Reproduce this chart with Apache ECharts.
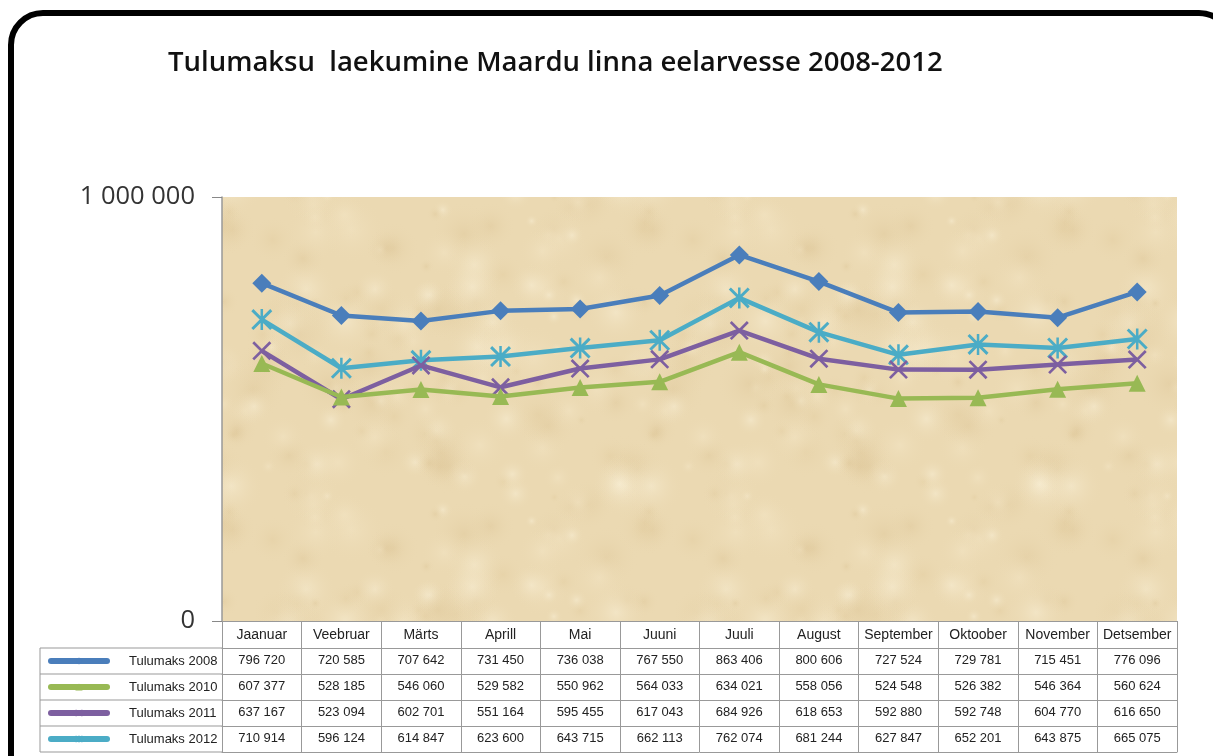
<!DOCTYPE html>
<html>
<head>
<meta charset="utf-8">
<title>Tulumaksu laekumine</title>
<script src="https://cdn.jsdelivr.net/npm/echarts@6/dist/echarts.min.js"></script>
<style>
  html, body { margin: 0; padding: 0; background: #fff; }
  #chart { width: 1213px; height: 756px; }
</style>
</head>
<body>
<div id="chart"></div>
<script>
const months = ["Jaanuar", "Veebruar", "Märts", "Aprill", "Mai", "Juuni", "Juuli", "August", "September", "Oktoober", "November", "Detsember"];
const tax2008 = [796720, 720585, 707642, 731450, 736038, 767550, 863406, 800606, 727524, 729781, 715451, 776096];
const tax2010 = [607377, 528185, 546060, 529582, 550962, 564033, 634021, 558056, 524548, 526382, 546364, 560624];
const tax2011 = [637167, 523094, 602701, 551164, 595455, 617043, 684926, 618653, 592880, 592748, 604770, 616650];
const tax2012 = [710914, 596124, 614847, 623600, 643715, 662113, 762074, 681244, 627847, 652201, 643875, 665075];
const seriesNames = ["Tulumaks 2008", "Tulumaks 2010", "Tulumaks 2011", "Tulumaks 2012"];
const yTicks = [0, 1000000];

const fmt = (v) => String(v).replace(/\B(?=(\d{3})+(?!\d))/g, " ");

// markers
const xMark = "path://M0,2L2,0L20,18L18,20ZM18,0L20,2L2,20L0,18Z";
const starMark = "path://M0,2L2,0L20,18L18,20ZM18,0L20,2L2,20L0,18ZM8.8,0L11.2,0L11.2,20L8.8,20Z";

// sandy texture (decoration only)
function makeTexture() {
  const c = document.createElement("canvas");
  c.width = 420;
  c.height = 300;
  const ctx = c.getContext("2d");
  ctx.fillStyle = "#ebd9b2";
  ctx.fillRect(0, 0, c.width, c.height);
  const hash = (n) => {
    const s = Math.sin(n * 127.1 + 311.7) * 43758.5453;
    return s - Math.floor(s);
  };
  const tones = ["rgba(248,238,212,0.55)", "rgba(214,188,138,0.28)", "rgba(244,230,198,0.5)", "rgba(222,198,150,0.3)"];
  for (let k = 0; k < 160; k++) {
    const x = hash(k) * c.width;
    const y = hash(k + 500) * c.height;
    const r = 6 + hash(k + 1000) * 28;
    const col = tones[k % tones.length];
    for (let dx = -c.width; dx <= c.width; dx += c.width) {
      for (let dy = -c.height; dy <= c.height; dy += c.height) {
        const g = ctx.createRadialGradient(x + dx, y + dy, 0, x + dx, y + dy, r);
        g.addColorStop(0, col);
        g.addColorStop(1, "rgba(235,217,178,0)");
        ctx.fillStyle = g;
        ctx.fillRect(x + dx - r, y + dy - r, r * 2, r * 2);
      }
    }
  }
  return c;
}

const chart = echarts.init(document.getElementById("chart"));

const gridLeft = 222, gridTop = 197, gridRight = 1177, gridBottom = 621;
const rowH = 26;
const lineColor = "#999";
const tableFont = "'Liberation Sans Narrow', 'Liberation Sans', Arial, sans-serif";

const colors = ["#4a7ebb", "#98b954", "#7d5fa0", "#4bacc6"];
const values = [tax2008, tax2010, tax2011, tax2012];
const symbols = ["diamond", "triangle", xMark, starMark];
const symbolSizes = [19, 17, 19, 21];

// rows of the data table drawn as extra x axes
const rowAxes = values.map((vals, i) => ({
  type: "category",
  data: months,
  position: "bottom",
  offset: 27 + i * rowH,
  axisLine: { show: true, lineStyle: { color: lineColor, width: 1 } },
  axisTick: { show: false },
  axisLabel: {
    interval: 0,
    margin: 6,
    color: "#222",
    fontSize: 13,
    fontFamily: tableFont,
    formatter: (v, idx) => fmt(vals[idx])
  }
}));

const tableLeft = [];
for (let i = 0; i <= 4; i++) {
  tableLeft.push({
    type: "line",
    shape: { x1: 40, y1: 648 + i * rowH, x2: gridLeft, y2: 648 + i * rowH },
    style: { stroke: lineColor, lineWidth: 1 }
  });
}
tableLeft.push({
  type: "line",
  shape: { x1: 40, y1: 648, x2: 40, y2: 648 + 4 * rowH },
  style: { stroke: lineColor, lineWidth: 1 }
});

chart.setOption({
  animation: false,
  title: {
    text: "Tulumaksu  laekumine Maardu linna eelarvesse 2008-2012",
    left: 163,
    top: 44,
    textStyle: { fontSize: 27.5, fontWeight: 600, color: "#111", fontFamily: "'Open Sans', sans-serif" }
  },
  legend: {
    orient: "vertical",
    left: 48,
    top: 653,
    padding: 0,
    itemWidth: 56,
    itemHeight: 9,
    itemGap: 10,
    data: seriesNames,
    lineStyle: { width: 6, cap: "round" },
    textStyle: { fontSize: 13, lineHeight: 16, color: "#222", fontFamily: tableFont, padding: [0, 0, 0, 17] }
  },
  grid: {
    left: gridLeft,
    top: gridTop,
    right: 1213 - gridRight,
    bottom: 756 - gridBottom
  },
  xAxis: [
    {
      type: "category",
      data: months,
      position: "bottom",
      axisLine: { show: true, lineStyle: { color: lineColor, width: 1 } },
      axisTick: { show: true, length: 4 * rowH + 27, lineStyle: { color: lineColor, width: 1 } },
      axisLabel: { interval: 0, margin: 7, color: "#222", fontSize: 14, fontFamily: tableFont }
    }
  ].concat(rowAxes).concat([
    {
      type: "category",
      data: months,
      position: "bottom",
      offset: 27 + 4 * rowH,
      axisLine: { show: true, lineStyle: { color: lineColor, width: 1 } },
      axisTick: { show: false },
      axisLabel: { show: false }
    }
  ]),
  yAxis: {
    type: "value",
    min: yTicks[0],
    max: yTicks[1],
    interval: yTicks[1] - yTicks[0],
    axisLine: { show: true, lineStyle: { color: "#999", width: 1.5 } },
    axisTick: { show: true, length: 10, lineStyle: { color: "#888" } },
    splitLine: { show: false },
    axisLabel: {
      margin: 27,
      color: "#333",
      fontSize: 25.5,
      fontFamily: "'Open Sans', sans-serif",
      formatter: (v) => fmt(v)
    }
  },
  graphic: [
    {
      type: "rect",
      z: -10,
      silent: true,
      shape: { x: gridLeft, y: gridTop, width: gridRight - gridLeft, height: gridBottom - gridTop },
      style: { fill: { image: makeTexture(), repeat: "repeat" } }
    },
    {
      type: "rect",
      silent: true,
      shape: { x: 11, y: 13, width: 1220, height: 775, r: 32 },
      style: { fill: null, stroke: "#000", lineWidth: 6 }
    }
  ].concat(tableLeft),
  series: values.map((vals, i) => ({
    name: seriesNames[i],
    type: "line",
    data: vals,
    xAxisIndex: 0,
    color: colors[i],
    symbol: symbols[i],
    symbolSize: symbolSizes[i],
    showAllSymbol: true,
    lineStyle: { width: 4.5, color: colors[i] },
    itemStyle: { color: colors[i] },
    z: 10 - i
  }))
});
</script>
</body>
</html>
